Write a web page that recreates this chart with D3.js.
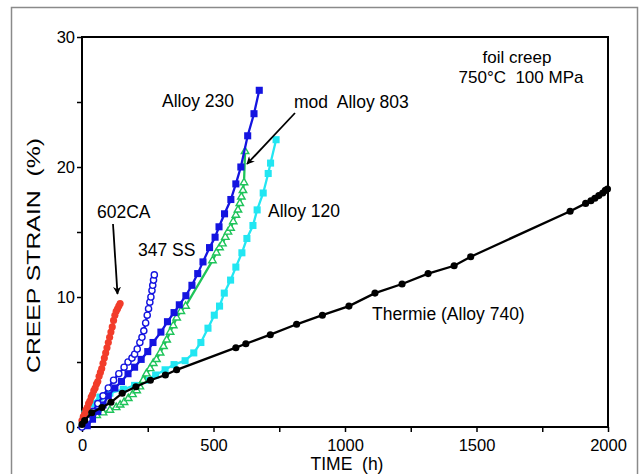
<!DOCTYPE html>
<html>
<head>
<meta charset="utf-8">
<script src="https://cdn.jsdelivr.net/npm/d3@7"></script>
<style>
  body { margin: 0; background: #fff; }
  svg { display: block; font-family: "Liberation Sans", Arial, sans-serif; }
</style>
</head>
<body>
<div id="chart"></div>
<script>
// Thermie (Alloy 740) - black filled circles
const thermieT = [0, 10, 37, 76, 110, 153, 205, 260, 317, 360, 585, 623, 716, 816, 914, 1015, 1114, 1217, 1316, 1415, 1478, 1856, 1915, 1935, 1950, 1965, 1980, 1990, 1998];
const thermieS = [0.2, 0.5, 1.1, 1.5, 1.9, 2.6, 3.1, 3.6, 4.0, 4.4, 6.1, 6.4, 7.1, 7.9, 8.6, 9.3, 10.3, 11.0, 11.8, 12.4, 13.1, 16.6, 17.2, 17.4, 17.6, 17.8, 18.0, 18.2, 18.3];

// 602CA - red filled circles
const ca602T = [0, 5, 10, 15, 20, 25, 30, 35, 40, 45, 50, 55, 60, 65, 70, 75, 80, 85, 90, 95, 100, 105, 110, 115, 120, 125, 130, 135, 140, 145];
const ca602S = [0.5, 0.8, 1.0, 1.3, 1.5, 1.8, 2.0, 2.3, 2.5, 2.8, 3.0, 3.3, 3.5, 3.9, 4.2, 4.5, 4.9, 5.3, 5.7, 6.1, 6.5, 6.9, 7.3, 7.7, 8.2, 8.6, 8.9, 9.1, 9.3, 9.5];

// 347 SS - blue open circles
const ss347T = [0, 20, 40, 60, 80, 100, 120, 140, 160, 175, 190, 200, 210, 220, 228, 235, 242, 248, 253, 258, 262, 266, 269, 272, 275];
const ss347S = [0.0, 0.6, 1.2, 1.8, 2.4, 3.0, 3.6, 4.1, 4.6, 5.0, 5.3, 5.6, 6.0, 6.5, 6.9, 7.4, 8.0, 8.6, 9.1, 9.6, 10.0, 10.5, 10.9, 11.3, 11.7];

// Alloy 230 - blue filled squares
const a230T = [20, 40, 60, 80, 100, 125, 150, 175, 200, 225, 250, 270, 300, 325, 350, 370, 395, 418, 440, 460, 485, 506, 521, 542, 566, 585, 604, 630, 654, 674];
const a230S = [0.1, 0.6, 1.2, 1.7, 2.4, 3.0, 3.5, 4.1, 4.6, 5.2, 5.8, 6.5, 7.3, 8.1, 8.8, 9.4, 10.1, 10.9, 11.8, 12.7, 13.8, 14.6, 15.4, 16.4, 17.5, 18.7, 20.0, 22.4, 24.1, 25.9];

// mod Alloy 803 - green open triangles
const a803T = [10, 30, 56, 80, 106, 130, 145, 160, 176, 192, 208, 220, 233, 245, 259, 271, 283, 297, 310, 322, 335, 347, 360, 376, 394, 496, 511, 523, 534, 545, 555, 565, 575, 585, 593, 600, 606, 612, 616, 620];
const a803S = [0.4, 0.7, 0.9, 1.1, 1.3, 1.5, 1.7, 1.9, 2.2, 2.5, 2.8, 3.1, 3.6, 4.1, 4.5, 4.9, 5.2, 5.7, 6.2, 6.7, 7.3, 7.8, 8.4, 8.9, 9.3, 12.8, 13.4, 13.8, 14.1, 14.6, 15.0, 15.3, 15.8, 16.3, 16.7, 17.2, 17.7, 18.2, 18.8, 21.2];

// Alloy 120 - cyan filled squares
const a120T = [5, 11, 37, 68, 106, 157, 200, 240, 280, 316, 350, 392, 425, 452, 479, 503, 523, 541, 565, 585, 608, 627, 650, 666, 689, 708, 717, 738];
const a120S = [0.5, 1.0, 1.8, 2.3, 2.6, 2.9, 3.2, 3.6, 4.0, 4.4, 4.8, 5.1, 5.7, 6.5, 7.6, 8.6, 9.3, 10.3, 11.3, 12.3, 13.4, 14.5, 15.5, 16.7, 18.0, 19.5, 20.3, 22.1];

const xTicks = [0, 500, 1000, 1500, 2000];
const yTicks = [0, 10, 20, 30];

const width = 640, height = 474;
const svg = d3.select('#chart').append('svg')
    .attr('width', width)
    .attr('height', height);

// outer gray frame
svg.append('rect')
    .attr('x', 11.5).attr('y', 7.5)
    .attr('width', 626).attr('height', 480)
    .attr('fill', 'none')
    .attr('stroke', '#8a8a8a')
    .attr('stroke-width', 1.5);

const x = d3.scaleLinear().domain([0, 2000]).range([82, 608]);
const y = d3.scaleLinear().domain([0, 30]).range([427, 37]);

// axes
const xAxis = d3.axisBottom(x)
    .tickValues(d3.range(0, 2001, 250))
    .tickSize(5)
    .tickFormat(d => xTicks.includes(d) ? d : '');
const yAxis = d3.axisLeft(y)
    .tickValues(d3.range(0, 31, 5))
    .tickSize(5)
    .tickFormat(d => yTicks.includes(d) ? d : '');

const gx = svg.append('g').attr('transform', `translate(0,${y(0)})`).call(xAxis);
const gy = svg.append('g').attr('transform', `translate(${x(0)},0)`).call(yAxis);
[gx, gy].forEach(g => {
    g.select('.domain').remove();
    g.selectAll('.tick line').attr('stroke', '#000').attr('stroke-width', 1.5);
    g.selectAll('.tick text')
        .attr('fill', '#000')
        .style('font-size', '16.5px')
        .style('font-family', '"Liberation Sans", Arial, sans-serif');
});
gx.selectAll('.tick text').attr('dy', '0.95em');
gy.selectAll('.tick text').attr('x', -7);

// plot box
svg.append('rect')
    .attr('x', x(0)).attr('y', y(30))
    .attr('width', x(2000) - x(0)).attr('height', y(0) - y(30))
    .attr('fill', 'none')
    .attr('stroke', '#000')
    .attr('stroke-width', 2);

const line = d3.line().x(d => x(d[0])).y(d => y(d[1]));

const series = [
    {t: a120T, s: a120S, color: '#22e6f2', shape: 'square', open: false},
    {t: a803T, s: a803S, color: '#1ec45a', shape: 'triangle', open: true},
    {t: a230T, s: a230S, color: '#1414e0', shape: 'square', open: false},
    {t: ss347T, s: ss347S, color: '#1414e0', shape: 'circle', open: true},
    {t: ca602T, s: ca602S, color: '#f23c2a', shape: 'circle', open: false},
    {t: thermieT, s: thermieS, color: '#000000', shape: 'circle', open: false}
];

const symbolType = {square: d3.symbolSquare, triangle: d3.symbolTriangle, circle: d3.symbolCircle};
const symbolSize = {square: 50, triangle: 34, circle: 40};

series.forEach(sr => {
    const pts = d3.zip(sr.t, sr.s);
    const g = svg.append('g');
    g.append('path')
        .datum(pts)
        .attr('d', line)
        .attr('fill', 'none')
        .attr('stroke', sr.color)
        .attr('stroke-width', 2.3);
    g.selectAll('path.m')
        .data(pts)
        .join('path')
        .attr('class', 'm')
        .attr('transform', d => `translate(${x(d[0])},${y(d[1])})`)
        .attr('d', d3.symbol(symbolType[sr.shape], sr.open ? symbolSize[sr.shape] - 10 : symbolSize[sr.shape]))
        .attr('fill', sr.open ? '#fff' : sr.color)
        .attr('stroke', sr.color)
        .attr('stroke-width', sr.open ? 1.4 : 0);
});

// arrows
svg.append('defs').append('marker')
    .attr('id', 'arrow')
    .attr('viewBox', '0 0 10 10')
    .attr('refX', 9).attr('refY', 5)
    .attr('markerWidth', 8).attr('markerHeight', 8)
    .attr('markerUnits', 'userSpaceOnUse')
    .attr('orient', 'auto')
    .append('path')
    .attr('d', 'M0,0 L10,5 L0,10 L3,5 Z')
    .attr('fill', '#000');

const arrows = [
    {from: [113, 224], to: [117.5, 294]},
    {from: [295, 113], to: [247, 164]}
];
svg.selectAll('line.arrow')
    .data(arrows)
    .join('line')
    .attr('class', 'arrow')
    .attr('x1', d => d.from[0]).attr('y1', d => d.from[1])
    .attr('x2', d => d.to[0]).attr('y2', d => d.to[1])
    .attr('stroke', '#000')
    .attr('stroke-width', 1.8)
    .attr('marker-end', 'url(#arrow)');

// labels
const labels = [
    {text: 'Alloy 230', x: 162, y: 107, anchor: 'start', size: 17.5},
    {text: 'mod  Alloy 803', x: 294, y: 108, anchor: 'start', size: 17.5},
    {text: '602CA', x: 97, y: 218, anchor: 'start', size: 17.5},
    {text: '347 SS', x: 138, y: 256, anchor: 'start', size: 17.5},
    {text: 'Alloy 120', x: 268, y: 217, anchor: 'start', size: 17.5},
    {text: 'Thermie (Alloy 740)', x: 372, y: 320, anchor: 'start', size: 17.5},
    {text: 'foil creep', x: 517, y: 63, anchor: 'middle', size: 17},
    {text: '750°C  100 MPa', x: 521, y: 83, anchor: 'middle', size: 17}
];
svg.selectAll('text.lbl')
    .data(labels)
    .join('text')
    .attr('class', 'lbl')
    .attr('x', d => d.x).attr('y', d => d.y)
    .attr('text-anchor', d => d.anchor)
    .style('font-size', d => d.size + 'px')
    .style('white-space', 'pre')
    .attr('fill', '#000')
    .text(d => d.text);

// axis titles
svg.append('text')
    .attr('x', 347).attr('y', 470)
    .attr('text-anchor', 'middle')
    .style('font-size', '17.5px')
    .style('white-space', 'pre')
    .text('TIME  (h)');

svg.append('text')
    .attr('transform', 'translate(40,373) rotate(-90)')
    .attr('text-anchor', 'start')
    .attr('textLength', 235)
    .attr('lengthAdjust', 'spacingAndGlyphs')
    .style('font-size', '18px')
    .style('white-space', 'pre')
    .text('CREEP STRAIN  (%)');
</script>
</body>
</html>
